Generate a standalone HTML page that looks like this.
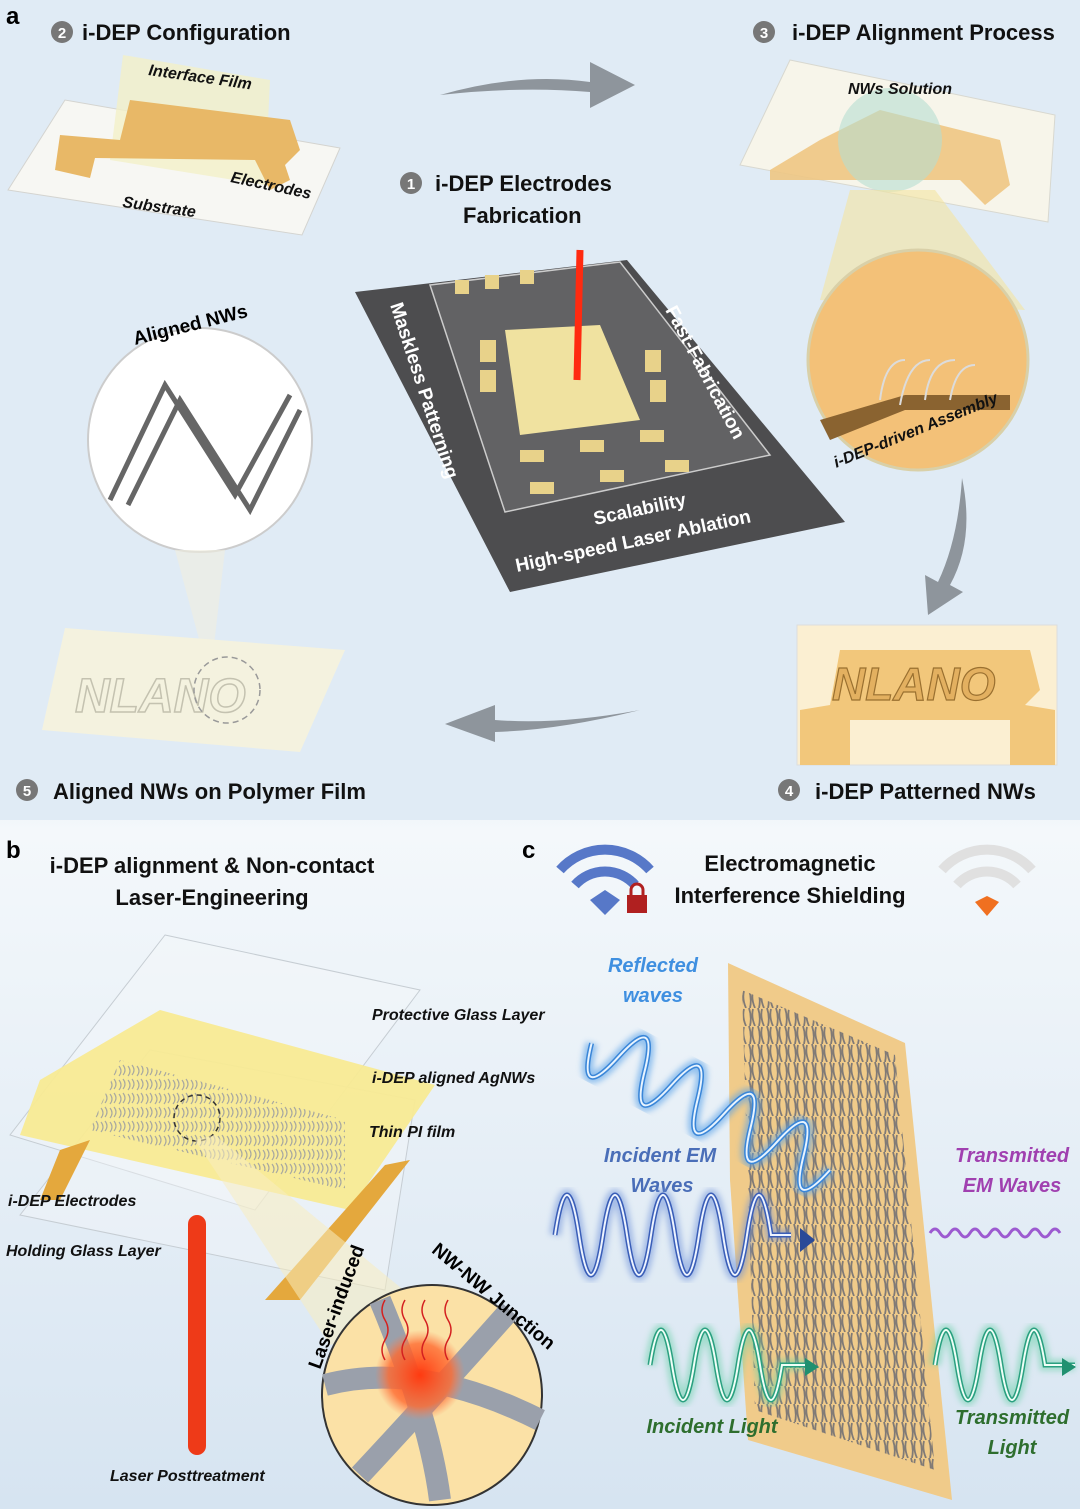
<!DOCTYPE html>
<html><head><meta charset="utf-8"><style>
html,body{margin:0;padding:0;background:#e4eef7}
svg{display:block}
text{font-family:"Liberation Sans",sans-serif}
.h{font-weight:bold;font-size:22px;fill:#111}
.it{font-style:italic;font-weight:bold;font-size:16px;fill:#111}
</style></head><body>
<svg width="1080" height="1509" viewBox="0 0 1080 1509" xmlns="http://www.w3.org/2000/svg">
<defs>
<linearGradient id="bg" x1="0" y1="0" x2="0" y2="1">
<stop offset="0" stop-color="#dbe7f3"/><stop offset="0.5" stop-color="#e3edf6"/><stop offset="0.55" stop-color="#f4f8fb"/><stop offset="1" stop-color="#d6e4f1"/></linearGradient>
<radialGradient id="red" cx="0.5" cy="0.5" r="0.5"><stop offset="0" stop-color="#ff3a10"/><stop offset="0.7" stop-color="#ff6a30" stop-opacity="0.8"/><stop offset="1" stop-color="#ff8050" stop-opacity="0"/></radialGradient>
<pattern id="nw" width="9" height="18" patternUnits="userSpaceOnUse"><path d="M2,0 q3,9 1,18 M6,1 q-2,8 2,17" stroke="#6c6c72" stroke-width="1.8" fill="none"/></pattern>
<pattern id="ag" width="9" height="14" patternUnits="userSpaceOnUse"><path d="M2,2 q4,5 0,10 M6,1 q4,5 0,10" stroke="#a9a9a0" stroke-width="1.2" fill="none"/></pattern>
<filter id="gl"><feGaussianBlur stdDeviation="3"/></filter>
</defs>
<rect width="1080" height="1509" fill="url(#bg)"/>
<rect x="0" y="0" width="1080" height="820" fill="#e0ebf5"/>

<text x="6" y="24" font-size="24" font-weight="bold">a</text>
<circle cx="62" cy="32" r="11" fill="#777"/><text x="62" y="38" font-size="15" fill="#fff" text-anchor="middle" font-weight="bold">2</text>
<text x="82" y="40" class="h">i-DEP Configuration</text>
<circle cx="764" cy="32" r="11" fill="#777"/><text x="764" y="38" font-size="15" fill="#fff" text-anchor="middle" font-weight="bold">3</text>
<text x="792" y="40" class="h">i-DEP Alignment Process</text>
<circle cx="411" cy="183" r="11" fill="#777"/><text x="411" y="189" font-size="15" fill="#fff" text-anchor="middle" font-weight="bold">1</text>
<text x="435" y="191" class="h">i-DEP Electrodes</text>
<text x="463" y="223" class="h">Fabrication</text>

<polygon points="8,190 65,100 340,148 302,235" fill="#f7f7f3" stroke="#d4d4d0"/>
<polygon points="123,55 270,80 265,185 110,160" fill="#f3f0c8" opacity="0.8"/>
<polygon points="60,135 120,140 130,100 290,120 300,150 285,165 290,180 270,190 255,160 95,158 90,178 55,170" fill="#e8b867"/>
<text x="148" y="75" class="it" transform="rotate(8 148 75)">Interface Film</text>
<text x="230" y="182" class="it" transform="rotate(12 230 182)">Electrodes</text>
<text x="122" y="207" class="it" transform="rotate(8 122 207)">Substrate</text>

<path d="M440,95 Q520,72 590,82 L590,62 L635,85 L590,108 L590,92 Q520,86 440,95Z" fill="#8e959c"/>

<polygon points="790,60 1055,115 1048,222 740,165" fill="#f7f5ea" stroke="#d8d8d0"/>
<polygon points="770,170 820,140 880,110 1000,140 1010,185 985,205 960,180 800,180 770,180" fill="#eec783" opacity="0.9"/>
<circle cx="890" cy="140" r="52" fill="#b6ddd0" opacity="0.6"/>
<text x="848" y="94" class="it">NWs Solution</text>
<polygon points="850,190 935,190 1025,310 820,300" fill="#f3e4a0" opacity="0.6"/>
<circle cx="918" cy="360" r="110" fill="#f3c178" stroke="#d9d0a8" stroke-width="3"/>
<path d="M820,420 L905,395 L1010,395 L1010,410 L905,410 L830,440Z" fill="#8a6330"/>
<g stroke="#dcdcdc" stroke-width="2" fill="none"><path d="M880,400 q5,-40 25,-40 M900,405 q8,-45 30,-45 M925,400 q5,-40 30,-40 M950,400 q6,-35 25,-35"/></g>
<text x="825" y="440" class="it" font-size="17" transform="rotate(-22 825 440)" dy="30">i-DEP-driven Assembly</text>

<polygon points="355,292 627,260 845,522 510,592" fill="#4d4d4f"/>
<polygon points="430,285 620,262 770,455 505,512" fill="#626264" stroke="#ccc" stroke-width="1.5"/>
<polygon points="505,330 600,325 640,420 520,435" fill="#f0e2a0"/>
<g fill="#e8d28a"><rect x="455" y="280" width="14" height="14"/><rect x="485" y="275" width="14" height="14"/><rect x="520" y="270" width="14" height="14"/><rect x="480" y="340" width="16" height="22"/><rect x="480" y="370" width="16" height="22"/><rect x="645" y="350" width="16" height="22"/><rect x="650" y="380" width="16" height="22"/><rect x="520" y="450" width="24" height="12"/><rect x="580" y="440" width="24" height="12"/><rect x="640" y="430" width="24" height="12"/><rect x="530" y="482" width="24" height="12"/><rect x="600" y="470" width="24" height="12"/><rect x="665" y="460" width="24" height="12"/></g>
<path d="M580,250 L577,380" stroke="#ff2a10" stroke-width="7"/>
<text x="390" y="305" font-size="19" font-weight="bold" fill="#fff" transform="rotate(72 390 305)">Maskless Patterning</text>
<text x="665" y="310" font-size="19" font-weight="bold" fill="#fff" transform="rotate(62 665 310)">Fast-Fabrication</text>
<text x="595" y="525" font-size="19" font-weight="bold" fill="#fff" transform="rotate(-12 595 525)">Scalability</text>
<text x="517" y="572" font-size="19" font-weight="bold" fill="#fff" transform="rotate(-12 517 572)">High-speed Laser Ablation</text>

<circle cx="200" cy="440" r="112" fill="#fff" stroke="#ccc" stroke-width="2"/>
<g stroke="#666" stroke-width="5" fill="none"><path d="M110,500 L165,385 L235,495 L290,395"/><path d="M128,505 L180,400 L250,510 L300,410"/></g>
<text x="135" y="345" font-size="19" font-weight="bold" transform="rotate(-14 135 345)">Aligned NWs</text>
<polygon points="175,550 225,550 210,680" fill="#f0efe0" opacity="0.6"/>
<polygon points="65,628 345,650 300,752 42,730" fill="#f4f2df"/>
<text x="75" y="712" font-size="48" font-style="italic" font-weight="bold" fill="none" stroke="#c4c2b0" stroke-width="1.5">NLANO</text>
<circle cx="227" cy="690" r="33" fill="none" stroke="#999" stroke-dasharray="6 4" stroke-width="1.5"/>

<path d="M640,710 Q560,725 495,720 L495,705 L445,724 L495,742 L495,732 Q560,730 640,710Z" fill="#8e959c"/>
<path d="M962,478 Q975,540 950,585 L963,592 L928,615 L925,575 L938,582 Q958,540 962,478Z" fill="#8e959c"/>

<rect x="797" y="625" width="260" height="140" fill="#fbefd2" stroke="#ddd"/>
<polygon points="800,710 830,705 840,650 1030,650 1040,690 1025,705 1055,710 1055,765 1010,765 1010,720 850,720 850,765 800,765" fill="#f2c77b"/>
<text x="832" y="700" font-size="46" font-weight="bold" font-style="italic" fill="#e3b060" stroke="#9a7030" stroke-width="1.2">NLANO</text>

<circle cx="27" cy="790" r="11" fill="#777"/><text x="27" y="796" font-size="15" fill="#fff" text-anchor="middle" font-weight="bold">5</text>
<text x="53" y="799" class="h">Aligned NWs on Polymer Film</text>
<circle cx="789" cy="790" r="11" fill="#777"/><text x="789" y="796" font-size="15" fill="#fff" text-anchor="middle" font-weight="bold">4</text>
<text x="815" y="799" class="h">i-DEP Patterned NWs</text>

<text x="6" y="858" font-size="24" font-weight="bold">b</text>
<text x="212" y="873" class="h" text-anchor="middle">i-DEP alignment &amp; Non-contact</text>
<text x="212" y="905" class="h" text-anchor="middle">Laser-Engineering</text>
<polygon points="165,935 420,990 255,1210 10,1135" fill="#f4f8fb" fill-opacity="0.4" stroke="#c6cdd3"/>
<polygon points="150,1050 415,1100 385,1290 20,1215" fill="#f4f8fb" fill-opacity="0.4" stroke="#c6cdd3"/>
<polygon points="160,1010 435,1085 350,1210 20,1135 40,1080" fill="#f8ea94" opacity="0.95"/>
<polygon points="120,1060 345,1120 345,1190 90,1130" fill="url(#ag)"/>
<polygon points="60,1150 90,1140 60,1200 40,1200" fill="#e4a83d"/>
<polygon points="385,1165 410,1160 300,1300 265,1300" fill="#e4a83d"/>
<circle cx="197" cy="1118" r="23" fill="none" stroke="#333" stroke-dasharray="5 4" stroke-width="1.5"/>
<polygon points="195,1140 215,1135 440,1320 330,1345" fill="#f7edc0" opacity="0.55"/>
<rect x="188" y="1215" width="18" height="240" rx="9" fill="#ee3a18"/>
<text x="372" y="1020" class="it">Protective Glass Layer</text>
<text x="372" y="1083" class="it">i-DEP aligned AgNWs</text>
<text x="369" y="1137" class="it">Thin PI film</text>
<text x="8" y="1206" class="it">i-DEP Electrodes</text>
<text x="6" y="1256" class="it">Holding Glass Layer</text>
<text x="110" y="1481" class="it">Laser Posttreatment</text>
<circle cx="432" cy="1395" r="110" fill="#fbe1a6" stroke="#333" stroke-width="2"/>
<g stroke="#9aa0ab" stroke-width="22" fill="none" stroke-linecap="butt"><path d="M325,1385 Q420,1360 540,1420"/><path d="M360,1475 Q430,1400 510,1310"/><path d="M440,1500 Q430,1420 380,1300"/></g>
<circle cx="420" cy="1375" r="45" fill="url(#red)"/>
<g stroke="#d42020" stroke-width="1.5" fill="none"><path d="M385,1300 q-6,10 0,20 t0,20 t0,20"/><path d="M405,1300 q-6,10 0,20 t0,20 t0,20"/><path d="M425,1300 q-6,10 0,20 t0,20 t0,20"/><path d="M448,1300 q-6,10 0,20 t0,20 t0,20"/></g>
<text x="320" y="1370" font-size="19" font-weight="bold" transform="rotate(-70 320 1370)">Laser-induced</text>
<text x="415" y="1275" font-size="19" font-weight="bold" transform="rotate(40 455 1285)">NW-NW Junction</text>

<text x="522" y="858" font-size="24" font-weight="bold">c</text>
<g fill="none" stroke="#5778c8" stroke-width="10"><path d="M560,870 a60,60 0 0 1 90,0"/><path d="M575,885 a40,40 0 0 1 60,0"/></g>
<path d="M590,900 l15,-10 l15,10 l-15,15z" fill="#5778c8"/>
<rect x="627" y="895" width="20" height="18" fill="#b02020"/><path d="M631,896 v-6 a6,6 0 0 1 12,0 v6" stroke="#b02020" stroke-width="3" fill="none"/>
<text x="790" y="871" class="h" text-anchor="middle">Electromagnetic</text>
<text x="790" y="903" class="h" text-anchor="middle">Interference Shielding</text>
<g fill="none" stroke="#e0e0e0" stroke-width="10"><path d="M942,870 a60,60 0 0 1 90,0"/><path d="M957,885 a40,40 0 0 1 60,0"/></g>
<path d="M975,902 l12,-6 l12,6 l-12,14z" fill="#f07020"/>

<polygon points="728,963 905,1043 952,1500 748,1440 730,1180" fill="#f0cb8a"/>
<polygon points="742,990 895,1055 935,1470 755,1410" fill="url(#nw)" opacity="0.85"/>

<text x="653" y="972" font-size="20" font-style="italic" font-weight="bold" fill="#3f8fe0" text-anchor="middle">Reflected</text>
<text x="653" y="1002" font-size="20" font-style="italic" font-weight="bold" fill="#3f8fe0" text-anchor="middle">waves</text>
<g transform="translate(830,1170) rotate(-152)">
<path d="M0,0 q15,-60 30,0 t30,0 t30,0 t30,0 t30,0 t30,0 t30,0 t30,0 t30,0" fill="none" stroke="#5aa2e8" stroke-width="12" opacity="0.6" filter="url(#gl)"/>
<path d="M0,0 q15,-60 30,0 t30,0 t30,0 t30,0 t30,0 t30,0 t30,0 t30,0 t30,0" fill="none" stroke="#3a86d8" stroke-width="5"/>
<path d="M0,0 q15,-60 30,0 t30,0 t30,0 t30,0 t30,0 t30,0 t30,0 t30,0 t30,0" fill="none" stroke="#e8f4ff" stroke-width="2"/>
</g>
<text x="660" y="1162" font-size="20" font-style="italic" font-weight="bold" fill="#4a6eb8" text-anchor="middle">Incident EM</text>
<text x="662" y="1192" font-size="20" font-style="italic" font-weight="bold" fill="#4a6eb8" text-anchor="middle">Waves</text>
<path d="M555,1235 q12,-80 24,0 t24,0 t24,0 t24,0 t24,0 t24,0 t24,0 t24,0 t24,0 l20,0" fill="none" stroke="#6a8ed8" stroke-width="12" opacity="0.5" filter="url(#gl)"/>
<path d="M555,1235 q12,-80 24,0 t24,0 t24,0 t24,0 t24,0 t24,0 t24,0 t24,0 t24,0 l20,0" fill="none" stroke="#3a5eb8" stroke-width="5"/>
<path d="M555,1235 q12,-80 24,0 t24,0 t24,0 t24,0 t24,0 t24,0 t24,0 t24,0 t24,0 l20,0" fill="none" stroke="#eef4ff" stroke-width="2"/>
<path d="M800,1228 l15,12 l-15,12z" fill="#2a4a98"/>
<text x="1012" y="1162" font-size="20" font-style="italic" font-weight="bold" fill="#a040b0" text-anchor="middle">Transmitted</text>
<text x="1012" y="1192" font-size="20" font-style="italic" font-weight="bold" fill="#a040b0" text-anchor="middle">EM Waves</text>
<path d="M930,1233 q5,-8 10,0 t10,0 t10,0 t10,0 t10,0 t10,0 t10,0 t10,0 t10,0 t10,0 t10,0 t10,0 t10,0" fill="none" stroke="#9c5ad0" stroke-width="3"/>
<path d="M650,1365 q11,-70 22,0 t22,0 t22,0 t22,0 t22,0 t22,0 l25,0" fill="none" stroke="#6ad0a8" stroke-width="12" opacity="0.5" filter="url(#gl)"/>
<path d="M650,1365 q11,-70 22,0 t22,0 t22,0 t22,0 t22,0 t22,0 l25,0" fill="none" stroke="#2aa080" stroke-width="5"/>
<path d="M650,1365 q11,-70 22,0 t22,0 t22,0 t22,0 t22,0 t22,0 l25,0" fill="none" stroke="#effff7" stroke-width="2"/>
<path d="M805,1358 l14,9 l-14,9z" fill="#209070"/>
<path d="M935,1365 q11,-70 22,0 t22,0 t22,0 t22,0 t22,0 l30,0" fill="none" stroke="#6ad0a8" stroke-width="12" opacity="0.5" filter="url(#gl)"/>
<path d="M935,1365 q11,-70 22,0 t22,0 t22,0 t22,0 t22,0 l30,0" fill="none" stroke="#2aa080" stroke-width="5"/>
<path d="M935,1365 q11,-70 22,0 t22,0 t22,0 t22,0 t22,0 l30,0" fill="none" stroke="#effff7" stroke-width="2"/>
<path d="M1062,1358 l14,9 l-14,9z" fill="#209070"/>
<text x="712" y="1433" font-size="20" font-style="italic" font-weight="bold" fill="#2e6e2e" text-anchor="middle">Incident Light</text>
<text x="1012" y="1424" font-size="20" font-style="italic" font-weight="bold" fill="#2e6e2e" text-anchor="middle">Transmitted</text>
<text x="1012" y="1454" font-size="20" font-style="italic" font-weight="bold" fill="#2e6e2e" text-anchor="middle">Light</text>
</svg>
</body></html>
